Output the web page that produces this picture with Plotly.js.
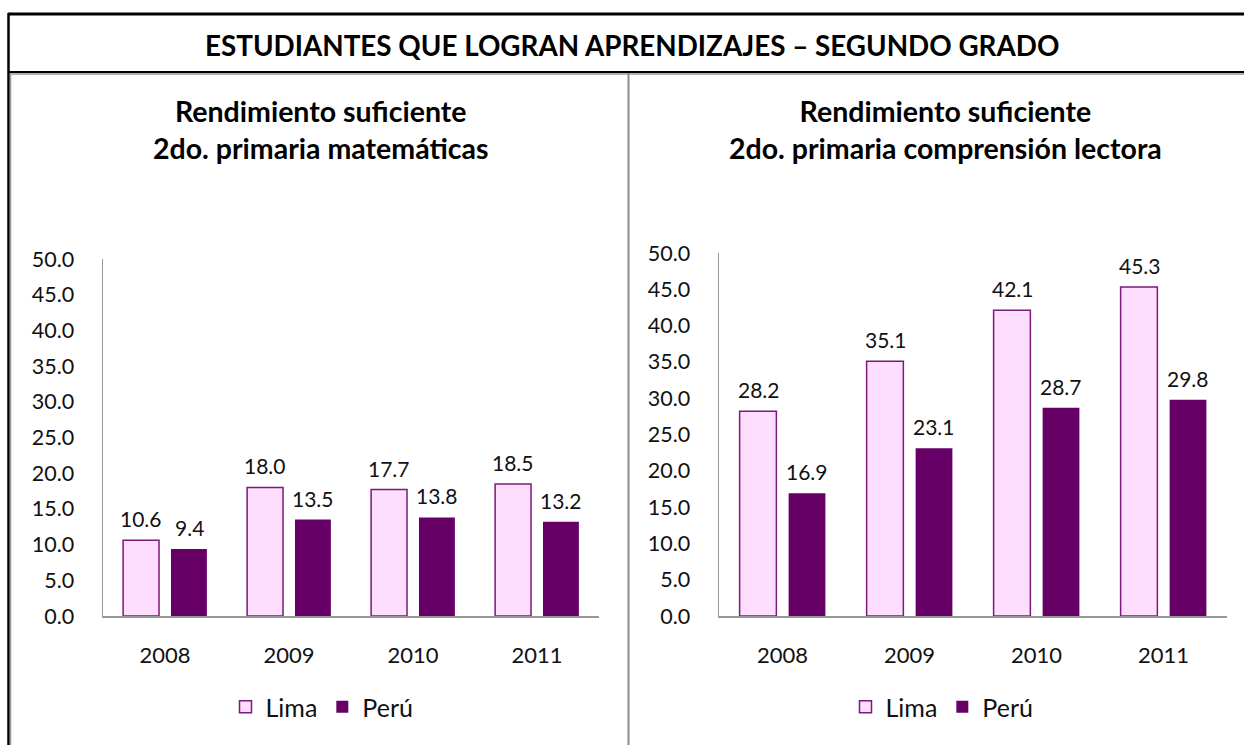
<!DOCTYPE html>
<html><head><meta charset="utf-8">
<script src="https://cdn.plot.ly/plotly-3.0.1.min.js"></script>
<style>html,body{margin:0;padding:0;background:#fff;}#chart{width:1244px;height:745px;}</style>
</head><body><div id="chart"></div>
<script>
const categories = ['2008', '2009', '2010', '2011'];
const seriesNames = ['Lima', 'Perú'];
const mathLima = [10.6, 18.0, 17.7, 18.5];
const mathPeru = [9.4, 13.5, 13.8, 13.2];
const readLima = [28.2, 35.1, 42.1, 45.3];
const readPeru = [16.9, 23.1, 28.7, 29.8];
const mainTitle = 'ESTUDIANTES QUE LOGRAN APRENDIZAJES – SEGUNDO GRADO';
const leftTitle = ['Rendimiento suficiente', '2do. primaria matemáticas'];
const rightTitle = ['Rendimiento suficiente', '2do. primaria comprensión lectora'];

const W = 1244, H = 745;
const px = v => v / W;
const py = v => 1 - v / H;
const FONT = 'Lato, "Open Sans", sans-serif';
const limaFill = '#FFDDFF', limaLine = '#7A1A7A', peruFill = '#660066';

function limaTrace(y, xa, ya, lg) {
  return {type: 'bar', name: seriesNames[0], x: categories, y: y, xaxis: xa, yaxis: ya, legend: lg,
    marker: {color: limaFill, line: {color: limaLine, width: 1.5}}, hoverinfo: 'skip'};
}
function peruTrace(y, xa, ya, lg) {
  return {type: 'bar', name: seriesNames[1], x: categories, y: y, xaxis: xa, yaxis: ya, legend: lg,
    marker: {color: peruFill, line: {color: peruFill, width: 0}}, hoverinfo: 'skip'};
}
const data = [
  limaTrace(mathLima, 'x', 'y', 'legend'),
  peruTrace(mathPeru, 'x', 'y', 'legend'),
  limaTrace(readLima, 'x2', 'y2', 'legend2'),
  peruTrace(readPeru, 'x2', 'y2', 'legend2')
];

const annotations = [];
function labels(vals, xref, yref, shift) {
  vals.forEach((v, i) => annotations.push({x: i, y: v, xref: xref, yref: yref,
    text: v.toFixed(1), showarrow: false, yanchor: 'bottom', xanchor: 'center', xshift: shift, yshift: 7,
    font: {family: FONT, size: 21, color: '#111'}}));
}
labels(mathLima, 'x', 'y', -24);
labels(mathPeru, 'x', 'y', 24);
labels(readLima, 'x2', 'y2', -24);
labels(readPeru, 'x2', 'y2', 24);

const bold = arr => arr.map(s => '<b>' + s + '</b>').join('<br>');
annotations.push({xref: 'paper', yref: 'paper', x: px(632), y: py(45), text: bold([mainTitle]),
  showarrow: false, xanchor: 'center', yanchor: 'middle', font: {family: FONT, size: 27.8, color: '#000'}});
annotations.push({xref: 'paper', yref: 'paper', x: px(320), y: py(130), text: bold(leftTitle),
  showarrow: false, xanchor: 'center', yanchor: 'middle', font: {family: FONT, size: 28.5, color: '#000'}});
annotations.push({xref: 'paper', yref: 'paper', x: px(945), y: py(130), text: bold(rightTitle),
  showarrow: false, xanchor: 'center', yanchor: 'middle', font: {family: FONT, size: 28.5, color: '#000'}});

const axisGrey = '#9a9a9a';
function yAx(domTop, anchor) {
  return {range: [0, 50], dtick: 5, tick0: 0, tickformat: '.1f', domain: [py(616), py(domTop)], anchor: anchor,
    showgrid: false, zeroline: false, showline: true, linecolor: axisGrey, linewidth: 1.5,
    ticks: 'outside', ticklen: 23, tickcolor: 'rgba(0,0,0,0)',
    tickfont: {family: FONT, size: 21.5, color: '#111'}, fixedrange: true};
}
function xAx(d0, d1, anchor) {
  return {type: 'category', domain: [px(d0), px(d1)], anchor: anchor, showgrid: false, zeroline: false,
    showline: true, linecolor: axisGrey, linewidth: 1.5, ticks: 'outside', ticklen: 19, tickcolor: 'rgba(0,0,0,0)',
    tickfont: {family: FONT, size: 22, color: '#111'}, fixedrange: true};
}

const shapes = [
  {type: 'line', xref: 'paper', yref: 'paper', x0: px(8), x1: px(1260), y0: py(14), y1: py(14), line: {color: '#000', width: 3}},
  {type: 'line', xref: 'paper', yref: 'paper', x0: px(8.5), x1: px(8.5), y0: py(13), y1: py(760), line: {color: '#000', width: 2.5}},
  {type: 'line', xref: 'paper', yref: 'paper', x0: px(8), x1: px(1260), y0: py(72), y1: py(72), line: {color: '#000', width: 2}},
  {type: 'line', xref: 'paper', yref: 'paper', x0: px(10), x1: px(1260), y0: py(74), y1: py(74), line: {color: '#999', width: 1.5}},
  {type: 'line', xref: 'paper', yref: 'paper', x0: px(10.5), x1: px(10.5), y0: py(74), y1: py(760), line: {color: '#999', width: 1.5}},
  {type: 'line', xref: 'paper', yref: 'paper', x0: px(628.5), x1: px(628.5), y0: py(73), y1: py(760), line: {color: '#8c8c8c', width: 2}}
];

const legendBase = {orientation: 'h', xanchor: 'center', yanchor: 'middle', y: py(707),
  font: {family: FONT, size: 25, color: '#111'}, bgcolor: 'rgba(0,0,0,0)', itemwidth: 30, tracegroupgap: 0};

const layout = {
  width: W, height: H, margin: {l: 0, r: 0, t: 0, b: 0}, paper_bgcolor: '#fff', plot_bgcolor: 'rgba(0,0,0,0)',
  showlegend: true, barmode: 'group', bargap: 0.228, bargroupgap: 0.25,
  xaxis: xAx(103, 599, 'y'), yaxis: yAx(259, 'x'),
  xaxis2: xAx(719, 1227, 'y2'), yaxis2: yAx(253, 'x2'),
  legend: Object.assign({x: px(322)}, legendBase),
  legend2: Object.assign({x: px(942)}, legendBase),
  annotations: annotations, shapes: shapes, font: {family: FONT}
};
Plotly.newPlot('chart', data, layout, {staticPlot: true, displayModeBar: false});
</script></body></html>
